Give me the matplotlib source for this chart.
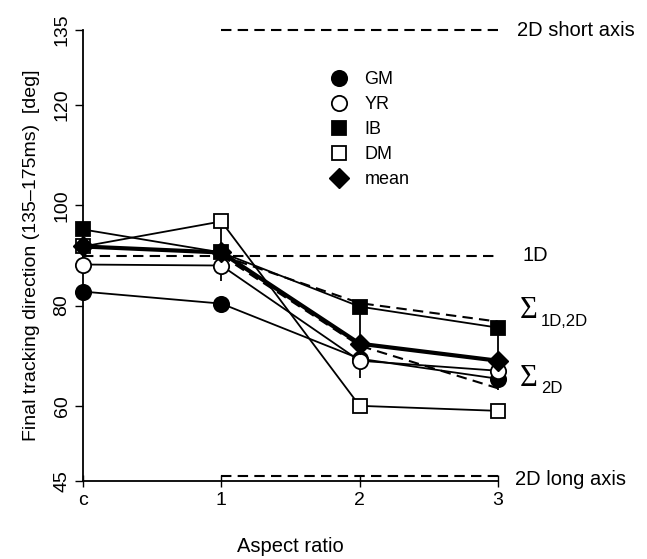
import matplotlib
matplotlib.use("Agg")
import matplotlib.pyplot as plt

plt.rcParams['font.family'] = ['Liberation Sans', 'DejaVu Sans']

categories = ['c', '1', '2', '3']
gm = [82.8, 80.4, 69.4, 65.4]
yr = [88.2, 88.0, 69.0, 67.0]
ib = [95.2, 90.6, 79.8, 75.6]
dm = [91.8, 96.8, 60.0, 59.0]
mean = [91.8, 90.6, 72.4, 69.0]
mean_err = [5.0, 5.7, 6.8, 5.9]

sum_1d2d = [90.0, 80.5, 76.8]
sum_2d = [90.0, 72.0, 63.5]
ref_1d = 90
ref_short = 135
ref_long = 46

yticks = [45, 60, 80, 100, 120, 135]

fig = plt.figure(figsize=(6.47, 5.59), dpi=100)
ax = fig.add_axes([83/647, 1-481/559, (498-83)/647, (481-30)/559])
x = list(range(len(categories)))

ax.set_xlim(0, 3)
ax.set_ylim(45, 135)

dash = (0, (5, 3))
ax.plot([0, 3], [ref_1d, ref_1d], color='black', lw=1.5, linestyle=dash, clip_on=False, zorder=1)
ax.plot([1, 3], [ref_short, ref_short], color='black', lw=1.5, linestyle=dash, clip_on=False, zorder=1)
ax.plot([1, 3], [ref_long, ref_long], color='black', lw=1.5, linestyle=dash, clip_on=False, zorder=1)
ax.plot(x[1:], sum_1d2d, color='black', lw=1.5, linestyle=dash, clip_on=False, zorder=1)
ax.plot(x[1:], sum_2d, color='black', lw=1.5, linestyle=dash, clip_on=False, zorder=1)

ax.errorbar(x, mean, yerr=mean_err, fmt='none', ecolor='black', elinewidth=1.3, capsize=0, zorder=2, clip_on=False)

series = [
    ('GM', gm, 'o', 'black'),
    ('YR', yr, 'o', 'white'),
    ('IB', ib, 's', 'black'),
    ('DM', dm, 's', 'white'),
]
for name, vals, m, fc in series:
    ax.plot(x, vals, color='black', lw=1.3, zorder=3, clip_on=False)
ax.plot(x, mean, color='black', lw=3.0, zorder=3, clip_on=False)
handles = []
for name, vals, m, fc in series:
    ms = 11 if m == 'o' else 10.5
    h, = ax.plot(x, vals, linestyle='none', marker=m, markersize=ms, markerfacecolor=fc,
                 markeredgecolor='black', markeredgewidth=1.3, zorder=4, clip_on=False, label=name)
    handles.append(h)
h, = ax.plot(x, mean, linestyle='none', marker='D', markersize=10.5, markerfacecolor='black',
             markeredgecolor='black', zorder=5, clip_on=False, label='mean')
handles.append(h)

leg = ax.legend(handles=handles, loc='upper left', bbox_to_anchor=((330-83)/415, (481-71)/451),
                frameon=False, fontsize=13, handletextpad=0.9, labelspacing=0.45,
                handlelength=1.0, borderaxespad=0, borderpad=0)

ax.set_xticks(x)
ax.set_xticklabels(categories, fontsize=14)
ax.set_yticks(yticks)
ax.set_yticklabels([str(t) for t in yticks], fontsize=14, rotation=90, va='center')
ax.tick_params(axis='x', direction='inout', length=8, width=1, pad=4)
ax.tick_params(axis='y', direction='out', length=6, width=1, pad=3)

for s in ['top', 'right']:
    ax.spines[s].set_visible(False)
for s in ['left', 'bottom']:
    ax.spines[s].set_linewidth(1.3)

ax.set_xlabel('Aspect ratio', fontsize=14.5, labelpad=20)
ax.set_ylabel('Final tracking direction (135–175ms)  [deg]', fontsize=14, labelpad=10)

ax.text(3.14, ref_short, '2D short axis', fontsize=14.5, va='center', ha='left', clip_on=False)
ax.text(3.18, ref_1d, '1D', fontsize=14.5, va='center', ha='left', clip_on=False)
ax.text(3.16, 79.0, 'Σ', fontsize=22, family='Liberation Serif', va='center', ha='left', clip_on=False)
ax.text(3.31, 76.9, '1D,2D', fontsize=12, va='center', ha='left', clip_on=False)
ax.text(3.16, 65.5, 'Σ', fontsize=22, family='Liberation Serif', va='center', ha='left', clip_on=False)
ax.text(3.31, 63.4, '2D', fontsize=12, va='center', ha='left', clip_on=False)
ax.text(3.12, 45.2, '2D long axis', fontsize=14.5, va='center', ha='left', clip_on=False)

fig.savefig('out.png', dpi=100)
